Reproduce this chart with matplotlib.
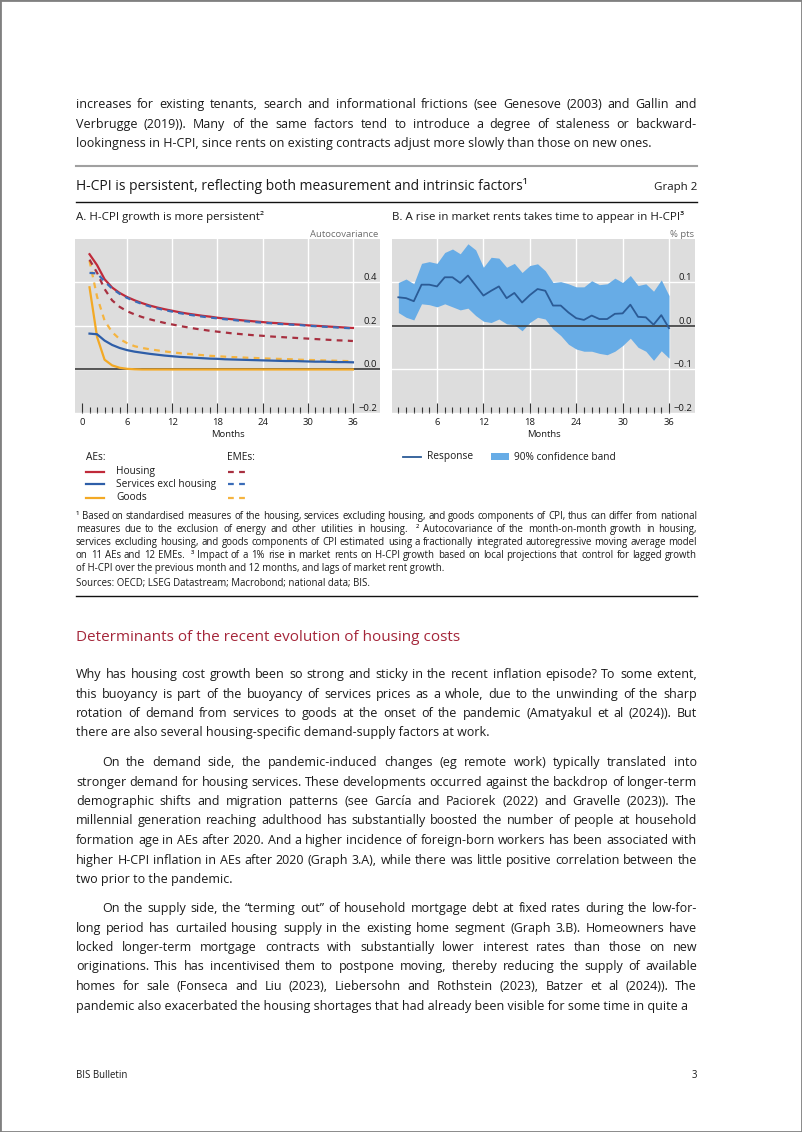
import numpy as np
import matplotlib
matplotlib.use("Agg")
import matplotlib.pyplot as plt
from matplotlib.lines import Line2D
from matplotlib.patches import Rectangle

W, H = 802, 1132
plt.rcParams['font.family'] = ['Open Sans', 'DejaVu Sans']

# ---- data -------------------------------------------------------------
months = list(range(1, 37))

# Panel A: autocovariance (AEs solid, EMEs dashed)
ae_housing = [0.530, 0.480, 0.415, 0.377, 0.352, 0.333, 0.318, 0.305, 0.294, 0.285,
              0.277, 0.270, 0.263, 0.257, 0.252, 0.247, 0.243, 0.238, 0.234, 0.231,
              0.227, 0.224, 0.221, 0.218, 0.215, 0.213, 0.210, 0.208, 0.206, 0.203,
              0.201, 0.199, 0.197, 0.195, 0.193, 0.191]
ae_services = [0.165, 0.162, 0.133, 0.113, 0.099, 0.089, 0.082, 0.077, 0.072, 0.068,
               0.064, 0.061, 0.058, 0.056, 0.054, 0.052, 0.050, 0.049, 0.047, 0.046,
               0.045, 0.044, 0.043, 0.042, 0.041, 0.040, 0.039, 0.039, 0.038, 0.037,
               0.036, 0.036, 0.035, 0.034, 0.034, 0.033]
ae_goods = [0.378, 0.150, 0.045, 0.019, 0.008, 0.003, 0.001, 0.0, 0.0, 0.0,
            0.0, 0.0, 0.0, 0.0, 0.0, 0.0, 0.0, 0.0, 0.0, 0.0,
            0.0, 0.0, 0.0, 0.0, 0.0, 0.0, 0.0, 0.0, 0.0, 0.0,
            0.0, 0.0, 0.0, 0.0, 0.0, 0.0]
eme_housing = [0.505, 0.445, 0.370, 0.318, 0.288, 0.268, 0.253, 0.241, 0.231, 0.222,
               0.214, 0.207, 0.200, 0.194, 0.188, 0.183, 0.178, 0.174, 0.170, 0.166,
               0.163, 0.160, 0.157, 0.155, 0.152, 0.150, 0.148, 0.146, 0.144, 0.142,
               0.140, 0.138, 0.136, 0.134, 0.133, 0.131]
eme_services = [0.444, 0.442, 0.405, 0.372, 0.348, 0.329, 0.314, 0.301, 0.290, 0.281,
                0.273, 0.266, 0.259, 0.253, 0.248, 0.243, 0.239, 0.235, 0.231, 0.228,
                0.224, 0.221, 0.218, 0.215, 0.213, 0.210, 0.208, 0.206, 0.204, 0.201,
                0.199, 0.197, 0.195, 0.193, 0.191, 0.189]
eme_goods = [0.500, 0.335, 0.225, 0.172, 0.140, 0.121, 0.107, 0.099, 0.093, 0.088,
             0.083, 0.079, 0.075, 0.072, 0.069, 0.066, 0.063, 0.061, 0.059, 0.057,
             0.056, 0.054, 0.053, 0.051, 0.050, 0.049, 0.048, 0.047, 0.045, 0.044,
             0.043, 0.042, 0.041, 0.040, 0.039, 0.038]

# Panel B: response of H-CPI growth to market rents, % pts
response = [0.066, 0.064, 0.057, 0.095, 0.095, 0.091, 0.112, 0.112, 0.099, 0.116,
            0.093, 0.070, 0.081, 0.091, 0.064, 0.076, 0.054, 0.071, 0.085, 0.081,
            0.047, 0.047, 0.031, 0.018, 0.014, 0.024, 0.016, 0.016, 0.028, 0.029,
            0.049, 0.021, 0.020, 0.003, 0.025, -0.005]
band_upper = [0.100, 0.108, 0.097, 0.144, 0.148, 0.144, 0.169, 0.177, 0.166, 0.189,
              0.175, 0.135, 0.158, 0.156, 0.135, 0.144, 0.123, 0.139, 0.143, 0.127,
              0.100, 0.102, 0.097, 0.090, 0.090, 0.104, 0.095, 0.097, 0.110, 0.100,
              0.116, 0.093, 0.097, 0.080, 0.106, 0.070]
band_lower = [0.031, 0.020, 0.014, 0.051, 0.049, 0.044, 0.051, 0.044, 0.037, 0.041,
              0.024, 0.011, 0.008, 0.016, 0.005, 0.003, -0.011, 0.008, 0.020, 0.016,
              -0.007, -0.022, -0.042, -0.053, -0.058, -0.058, -0.063, -0.066, -0.058, -0.045,
              -0.028, -0.049, -0.058, -0.079, -0.057, -0.074]

a_major = [0, 6, 12, 18, 24, 30, 36]
b_major = [6, 12, 18, 24, 30, 36]
a_yticks = [-0.2, 0.0, 0.2, 0.4]
a_ylabels = ['\u22120.2', '0.0', '0.2', '0.4']
b_yticks = [-0.2, -0.1, 0.0, 0.1]
b_ylabels = ['\u22120.2', '\u22120.1', '0.0', '0.1']

# ---- text -------------------------------------------------------------
top_par = [
    "increases for existing tenants, search and informational frictions (see Genesove (2003) and Gallin and",
    "Verbrugge (2019)). Many of the same factors tend to introduce a degree of staleness or backward-",
    "lookingness in H-CPI, since rents on existing contracts adjust more slowly than those on new ones.",
]
footnotes = [
    "\u00b9 Based on standardised measures of the housing, services excluding housing, and goods components of CPI, thus can differ from national",
    "measures due to the exclusion of energy and other utilities in housing.  \u00b2 Autocovariance of the month-on-month growth in housing,",
    "services excluding housing, and goods components of CPI estimated using a fractionally integrated autoregressive moving average model",
    "on 11 AEs and 12 EMEs.  \u00b3 Impact of a 1% rise in market rents on H-CPI growth based on local projections that control for lagged growth",
    "of H-CPI over the previous month and 12 months, and lags of market rent growth.",
]
par1 = [
    "Why has housing cost growth been so strong and sticky in the recent inflation episode? To some extent,",
    "this buoyancy is part of the buoyancy of services prices as a whole, due to the unwinding of the sharp",
    "rotation of demand from services to goods at the onset of the pandemic (Amatyakul et al (2024)). But",
    "there are also several housing-specific demand-supply factors at work.",
]
par2 = [
    "On the demand side, the pandemic-induced changes (eg remote work) typically translated into",
    "stronger demand for housing services. These developments occurred against the backdrop of longer-term",
    "demographic shifts and migration patterns (see García and Paciorek (2022) and Gravelle (2023)). The",
    "millennial generation reaching adulthood has substantially boosted the number of people at household",
    "formation age in AEs after 2020. And a higher incidence of foreign-born workers has been associated with",
    "higher H-CPI inflation in AEs after 2020 (Graph 3.A), while there was little positive correlation between the",
    "two prior to the pandemic.",
]
par3 = [
    "On the supply side, the \u201cterming out\u201d of household mortgage debt at fixed rates during the low-for-",
    "long period has curtailed housing supply in the existing home segment (Graph 3.B). Homeowners have",
    "locked longer-term mortgage contracts with substantially lower interest rates than those on new",
    "originations. This has incentivised them to postpone moving, thereby reducing the supply of available",
    "homes for sale (Fonseca and Liu (2023), Liebersohn and Rothstein (2023), Batzer et al (2024)). The",
    "pandemic also exacerbated the housing shortages that had already been visible for some time in quite a",
]

fig = plt.figure(figsize=(W / 100, H / 100), dpi=100)
fig.patch.set_facecolor('white')
renderer = fig.canvas.get_renderer()
TXT = '#1a1a1a'


def fx(px):
    return px / W


def fy(py):
    return 1 - py / H


def text_width(s, size):
    t = fig.text(0, 0, s, fontsize=size)
    w = t.get_window_extent(renderer).width
    t.remove()
    return w


def fit_size(s, width_px):
    return 10 * width_px / text_width(s, 10)


def fit_lines(lines, width_px):
    """Largest size at which every justified line still fits in width_px."""
    return min(fit_size(s, width_px) for s in lines)


def put_line(s, y, size, x0=76, x1=697, justify=True, color=TXT):
    """Draw one line; justified lines get their word gaps stretched to fill x0..x1."""
    y = round(y)  # whole-pixel baseline, otherwise words jitter up and down
    if not justify:
        fig.text(fx(x0), fy(y), s, fontsize=size, color=color, va='baseline')
        return
    words = s.split(' ')
    widths = [text_width(w, size) if w else 0 for w in words]
    gap = (x1 - x0 - sum(widths)) / (len(words) - 1)
    x = x0
    for w, wd in zip(words, widths):
        if w:
            fig.text(fx(x), fy(y), w, fontsize=size, color=color, va='baseline')
        x += wd + gap


def put_par(lines, y0, size, step=19.5, indent=0):
    for i, line in enumerate(lines):
        x0 = 76 + (indent if i == 0 else 0)
        put_line(line, y0 + i * step, size, x0=x0, justify=(i < len(lines) - 1))


def hrule(y, color, lw, x0=76, x1=697):
    fig.add_artist(Line2D([fx(x0), fx(x1)], [fy(y), fy(y)], color=color, lw=lw,
                          transform=fig.transFigure))


# font sizes fitted to the widths seen on the page
body_lines = top_par[:-1] + par1[:-1] + par2[1:-1] + par3[1:]
body_size = fit_lines(body_lines, 619)
foot_size = fit_lines(footnotes[:-1], 619)
title_size = fit_size("H-CPI is persistent, reflecting both measurement and intrinsic factors\u00b9", 451)
panel_size = fit_size("A. H-CPI growth is more persistent\u00b2", 187)
tick_size = fit_size("Autocovariance", 68)
leg_size = fit_size("Services excl housing", 100)
head_size = fit_size("Determinants of the recent evolution of housing costs", 381)
small_size = fit_size("BIS Bulletin", 51)

# ---- page text above the chart -----------------------------------------
put_par(top_par, 108, body_size)
hrule(166, '#a0a0a0', 1.5)
fig.text(fx(76), fy(190), "H-CPI is persistent, reflecting both measurement and intrinsic factors\u00b9",
         fontsize=title_size, color=TXT, va='baseline')
fig.text(fx(697), fy(190), "Graph 2", fontsize=panel_size, color=TXT, va='baseline', ha='right')
hrule(202.5, '#111111', 1.0)

fig.text(fx(76), fy(220), "A. H-CPI growth is more persistent\u00b2", fontsize=panel_size, color=TXT, va='baseline')
fig.text(fx(392), fy(220), "B. A rise in market rents takes time to appear in H-CPI\u00b3",
         fontsize=panel_size, color=TXT, va='baseline')
fig.text(fx(378), fy(237), "Autocovariance", fontsize=tick_size, color='#6e6e6e', va='baseline', ha='right')
fig.text(fx(694), fy(237), "% pts", fontsize=tick_size, color='#6e6e6e', va='baseline', ha='right')

# ---- chart styling ------------------------------------------------------
GREY = '#dddddd'
RED, RED_D = '#c02a3a', '#a83040'
BLUE, BLUE_D = '#2e5ea8', '#3a6cb8'
YEL, YEL_D = '#f3a925', '#f5b440'
DASH = (0, (2.6, 2.4))


def style_axes(ax, major, minor, yticks, ylabels):
    ax.set_facecolor(GREY)
    for s in ax.spines.values():
        s.set_visible(False)
    for m in major:
        if m > 0:
            ax.axvline(m, color='white', lw=1.0, zorder=0.5)
    ax.set_axisbelow(True)
    ax.yaxis.grid(True, color='white', lw=1.0)
    ax.axhline(0, color='#3a3a3a', lw=1.2, zorder=2.5)
    ax.set_xticks(major, [str(m) for m in major])
    ax.set_xticks(minor, minor=True)
    ax.tick_params(axis='x', which='both', direction='in', color='#333333', width=0.8,
                   pad=3.5, labelsize=tick_size, labelcolor=TXT)
    ax.tick_params(axis='x', which='major', length=7.5)
    ax.tick_params(axis='x', which='minor', length=4.3)
    ax.yaxis.tick_right()
    ax.set_yticks(yticks, ylabels)
    ax.tick_params(axis='y', length=0, pad=-2, labelsize=tick_size, labelcolor=TXT)
    plt.setp(ax.yaxis.get_majorticklabels(), ha='right', va='bottom')
    ax.set_xlabel('Months', fontsize=tick_size, color=TXT, labelpad=2)


# Panel A
axA = fig.add_axes([fx(75), fy(413), (380 - 75) / W, (413 - 239) / H])
axA.set_xlim(-0.93, 39.6)
axA.set_ylim(-0.2, 0.6)
style_axes(axA, a_major, list(range(0, 37)), a_yticks, a_ylabels)
axA.plot(months, ae_goods, color=YEL, lw=1.6, zorder=3)
axA.plot(months, eme_goods, color=YEL_D, lw=1.6, ls=DASH, zorder=3)
axA.plot(months, ae_services, color=BLUE, lw=1.6, zorder=3)
axA.plot(months, eme_housing, color=RED_D, lw=1.6, ls=DASH, zorder=3)
axA.plot(months, ae_housing, color=RED, lw=1.6, zorder=3)
axA.plot(months, eme_services, color=BLUE_D, lw=1.6, ls=DASH, zorder=3.1)

# Panel B
axB = fig.add_axes([fx(392), fy(413), (695 - 392) / W, (413 - 239) / H])
axB.set_xlim(0.18, 39.36)
axB.set_ylim(-0.2, 0.2)
style_axes(axB, b_major, list(range(1, 37)), b_yticks, b_ylabels)
axB.fill_between(months, band_lower, band_upper, color='#67ace6', lw=0, zorder=2)
axB.plot(months, response, color='#2b5b96', lw=1.3, zorder=3)

# ---- legends --------------------------------------------------------------
fig.text(fx(86), fy(458), "AEs:", fontsize=leg_size, color=TXT, va='center')
fig.text(fx(227), fy(458), "EMEs:", fontsize=leg_size, color=TXT, va='center')
legend_rows = [("Housing", RED, RED_D), ("Services excl housing", BLUE, BLUE_D), ("Goods", YEL, YEL_D)]
for (label, c_ae, c_eme), yy in zip(legend_rows, [471.5, 484.5, 497.5]):
    fig.add_artist(Line2D([fx(86), fx(104)], [fy(yy), fy(yy)], color=c_ae, lw=1.6,
                          transform=fig.transFigure))
    fig.text(fx(116), fy(yy), label, fontsize=leg_size, color=TXT, va='center')
    fig.add_artist(Line2D([fx(228), fx(247)], [fy(yy), fy(yy)], color=c_eme, lw=1.6, ls=DASH,
                          transform=fig.transFigure))

fig.add_artist(Line2D([fx(403), fx(421)], [fy(457), fy(457)], color='#2b5b96', lw=1.3,
                      transform=fig.transFigure))
fig.text(fx(427), fy(457), "Response", fontsize=leg_size, color=TXT, va='center')
fig.add_artist(Rectangle((fx(491), fy(460)), 18 / W, 6.5 / H, color='#67ace6', lw=0,
                         transform=fig.transFigure))
fig.text(fx(514), fy(457), "90% confidence band", fontsize=leg_size, color=TXT, va='center')

# ---- footnotes and sources ------------------------------------------------
put_par(footnotes, 519, foot_size, step=13)
fig.text(fx(76), fy(586), "Sources: OECD; LSEG Datastream; Macrobond; national data; BIS.",
         fontsize=foot_size, color=TXT, va='baseline')
hrule(596, '#111111', 1.0)

# ---- body text below the chart ---------------------------------------------
fig.text(fx(76), fy(641), "Determinants of the recent evolution of housing costs",
         fontsize=head_size, color='#a4263a', va='baseline')
put_par(par1, 678, body_size)
put_par(par2, 766, body_size, indent=26)
put_par(par3, 912, body_size, indent=26)

fig.text(fx(76), fy(1078), "BIS Bulletin", fontsize=small_size, color=TXT, va='baseline')
fig.text(fx(697), fy(1078), "3", fontsize=small_size, color=TXT, va='baseline', ha='right')

# page frame
fig.add_artist(Rectangle((0, 0), 1, 1, fill=False, edgecolor='#808080', lw=2.0,
                         transform=fig.transFigure))

fig.savefig('out.png', dpi=100)
